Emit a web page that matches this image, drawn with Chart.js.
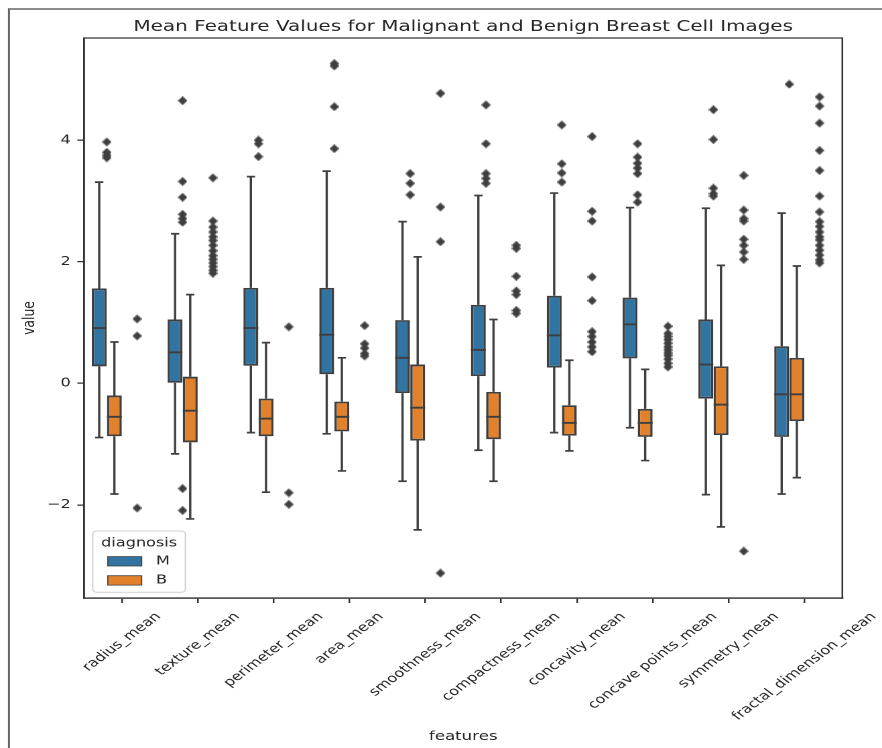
<!DOCTYPE html>
<html>
<head>
<meta charset="utf-8">
<script src="https://cdn.jsdelivr.net/npm/chart.js@4"></script>
<style>
  html, body { margin: 0; padding: 0; background: #fff; }
  #wrap { width: 882px; height: 748px; overflow: hidden; }
  #c { display: block; }
</style>
</head>
<body>
<div id="wrap"><canvas id="c" width="658" height="748" style="width:882px;height:748px"></canvas></div>
<script>
// ── data (standardised mean features) ────────────────────────────────────
const features = [
  "radius_mean", "texture_mean", "perimeter_mean", "area_mean", "smoothness_mean",
  "compactness_mean", "concavity_mean", "concave points_mean", "symmetry_mean",
  "fractal_dimension_mean",
];
const yTicks = [-2, 0, 2, 4];

// Malignant (M)
const mLow  = [-0.89, -1.16, -0.81, -0.83, -1.61, -1.10, -0.81, -0.73, -1.83, -1.82];
const mQ1   = [ 0.28,  0.01,  0.29,  0.15, -0.16,  0.12,  0.26,  0.41, -0.25, -0.88];
const mMed  = [ 0.91,  0.51,  0.91,  0.80,  0.42,  0.55,  0.79,  0.97,  0.31, -0.18];
const mQ3   = [ 1.56,  1.05,  1.57,  1.57,  1.04,  1.29,  1.44,  1.41,  1.05,  0.61];
const mHigh = [ 3.31,  2.46,  3.40,  3.49,  2.66,  3.09,  3.13,  2.89,  2.88,  2.80];
const mOut = [
  [3.97, 3.80, 3.75, 3.71],
  [4.65, 3.32, 3.06, 2.78, 2.71, 2.65, -1.73, -2.09],
  [4.00, 3.94, 3.73],
  [5.26, 5.22, 4.55, 3.86],
  [3.45, 3.29, 3.10],
  [4.58, 3.94, 3.45, 3.37, 3.29],
  [4.25, 3.61, 3.46, 3.31],
  [3.94, 3.72, 3.62, 3.54, 3.45, 3.10, 2.98],
  [4.50, 4.01, 3.21, 3.12, 3.08],
  [4.92],
];

// Benign (B)
const bLow  = [-1.82, -2.23, -1.79, -1.44, -2.41, -1.61, -1.11, -1.27, -2.36, -1.55];
const bQ1   = [-0.87, -0.97, -0.87, -0.79, -0.94, -0.92, -0.86, -0.88, -0.85, -0.62];
const bMed  = [-0.55, -0.45, -0.58, -0.55, -0.40, -0.55, -0.65, -0.65, -0.35, -0.18];
const bQ3   = [-0.20,  0.11, -0.25, -0.30,  0.31, -0.14, -0.36, -0.42,  0.28,  0.42];
const bHigh = [ 0.68,  1.46,  0.67,  0.42,  2.08,  1.05,  0.38,  0.23,  1.94,  1.93];
const bOut = [
  [1.06, 0.78, -2.05],
  [3.38, 2.67, 2.57, 2.49, 2.41, 2.35, 2.27, 2.18, 2.10, 2.04, 1.98, 1.92, 1.86, 1.81],
  [0.93, -1.80, -1.99],
  [0.95, 0.65, 0.58, 0.49, 0.45],
  [4.77, 2.90, 2.33, -3.12],
  [2.27, 2.22, 1.76, 1.52, 1.46, 1.20, 1.15],
  [4.06, 2.83, 2.67, 1.75, 1.36, 0.85, 0.77, 0.68, 0.60, 0.52],
  [0.94, 0.82, 0.77, 0.72, 0.66, 0.60, 0.55, 0.50, 0.46, 0.40, 0.33, 0.27],
  [3.42, 2.85, 2.71, 2.67, 2.37, 2.27, 2.16, 2.04, -2.76],
  [4.71, 4.56, 4.28, 3.83, 3.50, 3.08, 2.82, 2.66, 2.58, 2.49, 2.41, 2.36, 2.27, 2.19, 2.11, 2.03, 1.98],
];

const BLUE = "#3274a1", ORANGE = "#e1812c", LINE = "#3f3f3f", TEXT = "#262626", SPINE = "#333333";
const FONT = '"DejaVu Sans", sans-serif';
Chart.defaults.font.family = FONT;

// fliers: hue offset of ±0.2 category on an invisible linear axis matching the category one
const fliers = (outs, shift) =>
  outs.flatMap((vals, i) => vals.map((v) => ({ x: i + shift, y: v })));

// thin diamond marker (matplotlib "d")
function thinDiamond() {
  const c = document.createElement("canvas");
  c.width = 7; c.height = 9;
  const g = c.getContext("2d");
  g.fillStyle = LINE;
  g.beginPath();
  g.moveTo(3.5, 0); g.lineTo(7, 4.5); g.lineTo(3.5, 9); g.lineTo(0, 4.5);
  g.closePath(); g.fill();
  return c;
}
const diamond = thinDiamond();

// ── whiskers, caps and medians, placed from the bar elements + y scale ──
const boxParts = {
  id: "boxParts",
  beforeDatasetsDraw(chart) {
    const { ctx } = chart;
    const y = chart.scales.y;
    ctx.save();
    ctx.strokeStyle = LINE;
    ctx.lineWidth = 1.7;
    [[0, mLow, mQ1, mQ3, mHigh], [1, bLow, bQ1, bQ3, bHigh]].forEach(([di, lo, q1, q3, hi]) => {
      chart.getDatasetMeta(di).data.forEach((el, i) => {
        const cap = el.width * 0.28;
        const pLo = y.getPixelForValue(lo[i]), pHi = y.getPixelForValue(hi[i]);
        ctx.beginPath();
        ctx.moveTo(el.x, y.getPixelForValue(q1[i])); ctx.lineTo(el.x, pLo);
        ctx.moveTo(el.x, y.getPixelForValue(q3[i])); ctx.lineTo(el.x, pHi);
        ctx.moveTo(el.x - cap, pLo); ctx.lineTo(el.x + cap, pLo);
        ctx.moveTo(el.x - cap, pHi); ctx.lineTo(el.x + cap, pHi);
        ctx.stroke();
      });
    });
    ctx.restore();
  },
  afterDatasetsDraw(chart) {
    const { ctx } = chart;
    const y = chart.scales.y;
    ctx.save();
    ctx.strokeStyle = LINE;
    ctx.lineWidth = 1.9;
    [[0, mMed], [1, bMed]].forEach(([di, med]) => {
      chart.getDatasetMeta(di).data.forEach((el, i) => {
        const p = y.getPixelForValue(med[i]);
        ctx.beginPath();
        ctx.moveTo(el.x - el.width / 2, p); ctx.lineTo(el.x + el.width / 2, p);
        ctx.stroke();
      });
    });
    ctx.restore();
  },
};

// ── figure frame, spines, title, rotated x labels, legend ───────────────
const decor = {
  id: "decor",
  afterDraw(chart) {
    const { ctx, chartArea: a } = chart;
    const xs = chart.scales.x;
    ctx.save();

    // outer frame (top + left only)
    ctx.strokeStyle = "#666";
    ctx.lineWidth = 1.5;
    ctx.beginPath();
    ctx.moveTo(6.7, 748); ctx.lineTo(6.7, 9); ctx.lineTo(chart.width, 9);
    ctx.stroke();

    // top/right spines
    ctx.strokeStyle = SPINE;
    ctx.lineWidth = 1.25;
    ctx.strokeRect(a.left, a.top, a.right - a.left, a.bottom - a.top);

    // title
    ctx.fillStyle = TEXT;
    ctx.font = `14.9px ${FONT}`;
    ctx.textAlign = "center";
    ctx.textBaseline = "alphabetic";
    ctx.fillText("Mean Feature Values for Malignant and Benign Breast Cell Images", (a.left + a.right) / 2, 31);

    // x tick labels, rotated 45°, bbox centred under the tick
    ctx.font = `12px ${FONT}`;
    ctx.textBaseline = "middle";
    features.forEach((lab, i) => {
      const L = ctx.measureText(lab).width;
      const cx = xs.getPixelForValue(i);
      const cy = a.bottom + 12.5 + (L + 12) / (2 * Math.SQRT2);
      ctx.save();
      ctx.translate(cx, cy);
      ctx.rotate(-Math.PI / 4);
      ctx.fillText(lab, 0, 0);
      ctx.restore();
    });

    // legend
    const lx = 69.2, ly = 531, lw = 69.1, lh = 61.3;
    ctx.beginPath();
    ctx.roundRect(lx, ly, lw, lh, 3);
    ctx.fillStyle = "rgba(255,255,255,0.8)";
    ctx.fill();
    ctx.strokeStyle = "#d0d0d0";
    ctx.lineWidth = 1;
    ctx.stroke();
    ctx.fillStyle = TEXT;
    ctx.font = `12px ${FONT}`;
    ctx.textAlign = "center";
    ctx.fillText("diagnosis", lx + lw / 2, 543.5);
    [["M", BLUE, 556.6], ["B", ORANGE, 575.7]].forEach(([lab, col, py]) => {
      ctx.fillStyle = col;
      ctx.fillRect(80.4, py, 25.3, 9.4);
      ctx.strokeStyle = LINE;
      ctx.lineWidth = 0.8;
      ctx.strokeRect(80.4, py, 25.3, 9.4);
      ctx.fillStyle = TEXT;
      ctx.textAlign = "left";
      ctx.fillText(lab, 116.4, py + 4.9);
    });

    ctx.restore();
  },
};

new Chart(document.getElementById("c"), {
  type: "bar",
  data: {
    labels: features,
    datasets: [
      {
        label: "M",
        data: mQ1.map((v, i) => [v, mQ3[i]]),
        backgroundColor: BLUE,
        borderColor: LINE,
        borderWidth: 1.8,
        borderSkipped: false,
        categoryPercentage: 0.8,
        barPercentage: 0.98,
      },
      {
        label: "B",
        data: bQ1.map((v, i) => [v, bQ3[i]]),
        backgroundColor: ORANGE,
        borderColor: LINE,
        borderWidth: 1.8,
        borderSkipped: false,
        categoryPercentage: 0.8,
        barPercentage: 0.98,
      },
      {
        type: "scatter",
        label: "M outliers",
        data: fliers(mOut, -0.2),
        xAxisID: "x2",
        pointStyle: diamond,
        showLine: false,
      },
      {
        type: "scatter",
        label: "B outliers",
        data: fliers(bOut, 0.2),
        xAxisID: "x2",
        pointStyle: diamond,
        showLine: false,
      },
    ],
  },
  options: {
    responsive: false,
    devicePixelRatio: 2,
    animation: false,
    events: [],
    layout: { padding: { left: 0, right: 29.6, top: 38, bottom: 0 } },
    plugins: {
      legend: { display: false },
      title: { display: false },
      tooltip: { enabled: false },
    },
    scales: {
      x: {
        type: "category",
        position: "bottom",
        offset: true,
        grid: { offset: false, drawOnChartArea: false, drawTicks: true, tickLength: 5, color: SPINE, lineWidth: 1.25 },
        border: { display: true, color: SPINE, width: 1.25 },
        ticks: { display: false },
        title: { display: true, text: "features", color: TEXT, font: { size: 12.4 }, padding: { top: 0, bottom: 3.6 } },
        afterFit: (s) => { s.height = 150; },
      },
      x2: {
        type: "linear",
        position: "top",
        offset: false,
        min: -0.5,
        max: 9.5,
        grid: { display: false, drawTicks: false, offset: false },
        border: { display: false },
        ticks: { display: false },
        afterFit: (s) => { s.height = 0; },
      },
      y: {
        min: -3.53,
        max: 5.68,
        afterBuildTicks: (s) => { s.ticks = yTicks.map((v) => ({ value: v })); },
        ticks: {
          color: TEXT,
          font: { size: 12 },
          padding: 5,
          callback: (v) => (v < 0 ? "\u2212" + Math.abs(v) : String(v)),
        },
        grid: { drawOnChartArea: false, drawTicks: true, tickLength: 5, color: SPINE, lineWidth: 1.25 },
        border: { display: true, color: SPINE, width: 1.25 },
        title: { display: true, text: "value", color: TEXT, font: { size: 12.4 }, padding: { top: 15, bottom: 0 } },
        afterFit: (s) => { s.width = 62.7; },
      },
    },
  },
  plugins: [boxParts, decor],
});
</script>
</body>
</html>
